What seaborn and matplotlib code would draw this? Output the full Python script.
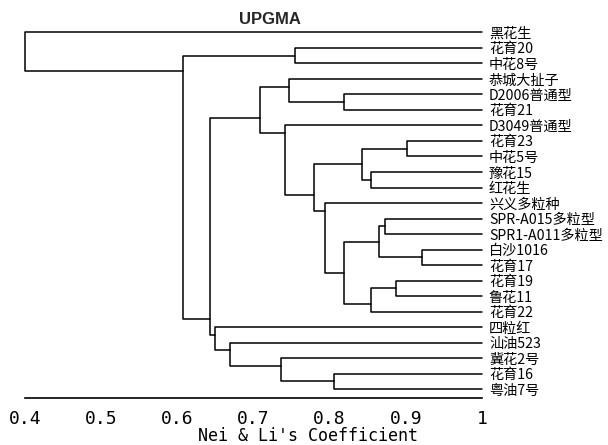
import matplotlib
matplotlib.use("Agg")
import numpy as np
import pandas as pd
import matplotlib.pyplot as plt
import seaborn as sns
from matplotlib import font_manager

# leaf labels, top to bottom
labels = ["黑花生", "花育20", "中花8号", "恭城大扯子", "D2006普通型", "花育21",
          "D3049普通型", "花育23", "中花5号", "豫花15", "红花生", "兴义多粒种",
          "SPR-A015多粒型", "SPR1-A011多粒型", "白沙1016", "花育17", "花育19",
          "鲁花11", "花育22", "四粒红", "汕油523", "冀花2号", "花育16", "粤油7号"]

# merges (node id = 24 + row), like a linkage table
left_child = [1, 4, 3, 7, 9, 27, 12, 14, 30, 16, 33, 32, 11, 29, 6, 26, 22, 21, 20, 19, 39, 24, 0]
right_child = [2, 5, 25, 8, 10, 28, 13, 15, 31, 17, 18, 34, 35, 36, 37, 38, 23, 40, 41, 42, 43, 44, 45]
merge_height = [0.754, 0.819, 0.746, 0.901, 0.854, 0.842, 0.872, 0.921, 0.865, 0.887, 0.854,
                0.819, 0.794, 0.779, 0.741, 0.709, 0.806, 0.736, 0.669, 0.649, 0.643, 0.608, 0.400]

tick_values = [0.4, 0.5, 0.6, 0.7, 0.8, 0.9, 1.0]
tick_labels = ["0.4", "0.5", "0.6", "0.7", "0.8", "0.9", "1"]


def first_font(names, fallback):
    have = {f.name for f in font_manager.fontManager.ttflist}
    for name in names:
        if name in have:
            return name
    return fallback


# build the dendrogram segments
n = len(labels)
height = {i: 1.0 for i in range(n)}
members = {i: [i] for i in range(n)}
for k, (a, b) in enumerate(zip(left_child, right_child)):
    members[n + k] = members[a] + members[b]
order = members[n + len(left_child) - 1]
pos = {leaf: p for p, leaf in enumerate(order)}
attach = {i: float(pos[i]) for i in range(n)}

rows = []
for k, (a, b, h) in enumerate(zip(left_child, right_child, merge_height)):
    node = n + k
    height[node] = h
    # parent line sits between the two child groups
    attach[node] = (pos[members[a][-1]] + pos[members[b][0]]) / 2
    pts = [(height[a], attach[a]), (h, attach[a]), (h, attach[b]), (height[b], attach[b])]
    for j, (x, y) in enumerate(pts):
        rows.append({"seg": node, "step": j, "x": x, "y": y})
segs = pd.DataFrame(rows)

sns.set_style("white")
plt.rcParams["font.family"] = ["Noto Sans CJK SC", "DejaVu Sans"]
mono = first_font(["DejaVu Sans Mono", "Liberation Mono"], "DejaVu Sans")
narrow = first_font(["Liberation Sans Narrow", "Liberation Sans"], "DejaVu Sans")

fig = plt.figure(figsize=(6.08, 4.45), dpi=100)
ax = fig.add_axes([25 / 608, 47 / 445, 457 / 608, 378 / 445])

sns.lineplot(data=segs, x="x", y="y", units="seg", estimator=None, sort=False,
             color="black", lw=1.1, clip_on=False, ax=ax, legend=False)

ax.set_xlim(0.4, 1.0)
ax.set_ylim(23.58, -0.806)

for side in ["top", "left", "right"]:
    ax.spines[side].set_visible(False)
ax.spines["bottom"].set_linewidth(1.2)
ax.spines["bottom"].set_color("black")

ax.set_xticks(tick_values)
ax.set_xticklabels(tick_labels, fontfamily=mono, fontsize=13)
ax.tick_params(axis="x", direction="out", length=7, width=1.2, pad=1.5, colors="black")

ax.yaxis.tick_right()
ax.set_yticks([pos[i] for i in range(n)])
ax.set_yticklabels(labels, fontsize=10.2)
ax.tick_params(axis="y", length=0, pad=5, colors="black")

ax.set_xlabel("Nei & Li's Coefficient", fontfamily=mono, fontsize=12, color="black")
ax.xaxis.set_label_coords(0.619, -0.1)
ax.xaxis.label.set_va("center")
ax.set_ylabel("")

ax.text(0.536, 1.0, "UPGMA", transform=ax.transAxes, ha="center", va="center",
        fontsize=12, fontweight="bold", family=narrow)

fig.savefig("out.png", dpi=100)
